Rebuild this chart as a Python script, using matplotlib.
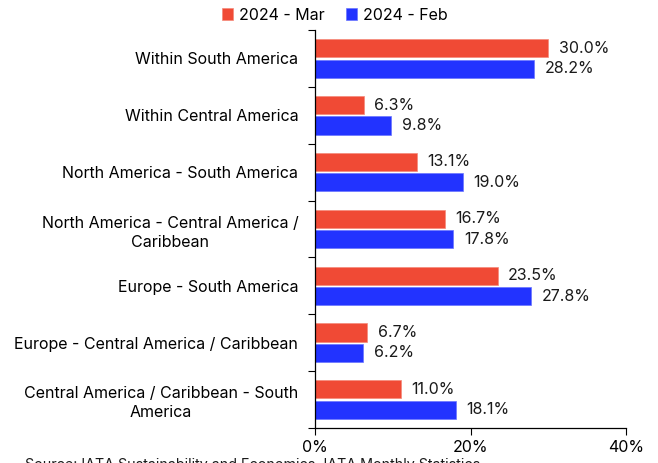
import matplotlib
matplotlib.use("Agg")
import matplotlib.pyplot as plt
import numpy as np

plt.rcParams['font.family'] = ['Inter', 'DejaVu Sans']

categories = [
    "Within South America",
    "Within Central America",
    "North America - South America",
    "North America - Central America /\nCaribbean",
    "Europe - South America",
    "Europe - Central America / Caribbean",
    "Central America / Caribbean - South\nAmerica",
]
mar_values = [30.0, 6.3, 13.1, 16.7, 23.5, 6.7, 11.0]
feb_values = [28.2, 9.8, 19.0, 17.8, 27.8, 6.2, 18.1]
series_names = ["2024 - Mar", "2024 - Feb"]
x_ticks = [0, 20, 40]

red = "#F04A35"
blue = "#2233FF"
fs = 11.5

fig = plt.figure(figsize=(6.58, 4.63), dpi=100)
ax = fig.add_axes([315/658, 1-428/463, (626-315)/658, (428-30)/463])

y = np.arange(len(categories))
h = 0.32
off = 0.18
b1 = ax.barh(y - off, mar_values, height=h, color=red, edgecolor="#F58A7A", linewidth=0.5, label=series_names[0])
b2 = ax.barh(y + off, feb_values, height=h, color=blue, edgecolor="#6A75FF", linewidth=0.5, label=series_names[1])

for bars, vals in ((b1, mar_values), (b2, feb_values)):
    for rect, v in zip(bars, vals):
        ax.annotate(f"{v:.1f}%", (v, rect.get_y() + rect.get_height()/2),
                    xytext=(7.5, 0), textcoords="offset points",
                    va="center", ha="left", fontsize=fs, color="#1a1a1a")

ax.set_ylim(len(categories) - 0.5, -0.5)
ax.set_xlim(0, 40)
ax.set_xticks(x_ticks)
ax.set_xticklabels([f"{t}%" for t in x_ticks], fontsize=fs)
ax.set_yticks(y)
ax.set_yticklabels(categories, fontsize=fs, multialignment="center", linespacing=1.35)
ax.set_yticks(np.arange(len(categories) + 1) - 0.5, minor=True)
ax.tick_params(axis="y", which="major", length=0, pad=12)
ax.tick_params(axis="y", which="minor", length=5, width=0.8, direction="out")
ax.tick_params(axis="x", length=5, width=0.8, pad=4)
for s in ["top", "right"]:
    ax.spines[s].set_visible(False)
for s in ["left", "bottom"]:
    ax.spines[s].set_linewidth(0.9)
    ax.spines[s].set_color("black")

fig.legend(handles=[b1, b2], labels=series_names, loc="center",
           bbox_to_anchor=(335/658, 1-15/463), ncol=2, frameon=False,
           fontsize=fs, handlelength=0.7, handleheight=0.7,
           handletextpad=0.4, columnspacing=1.3)

fig.text(25/658, 1-458/463, "Source: IATA Sustainability and Economics, IATA Monthly Statistics",
         fontsize=10.3, va="top", ha="left", color="#1a1a1a")

fig.savefig("out.png", dpi=100)
